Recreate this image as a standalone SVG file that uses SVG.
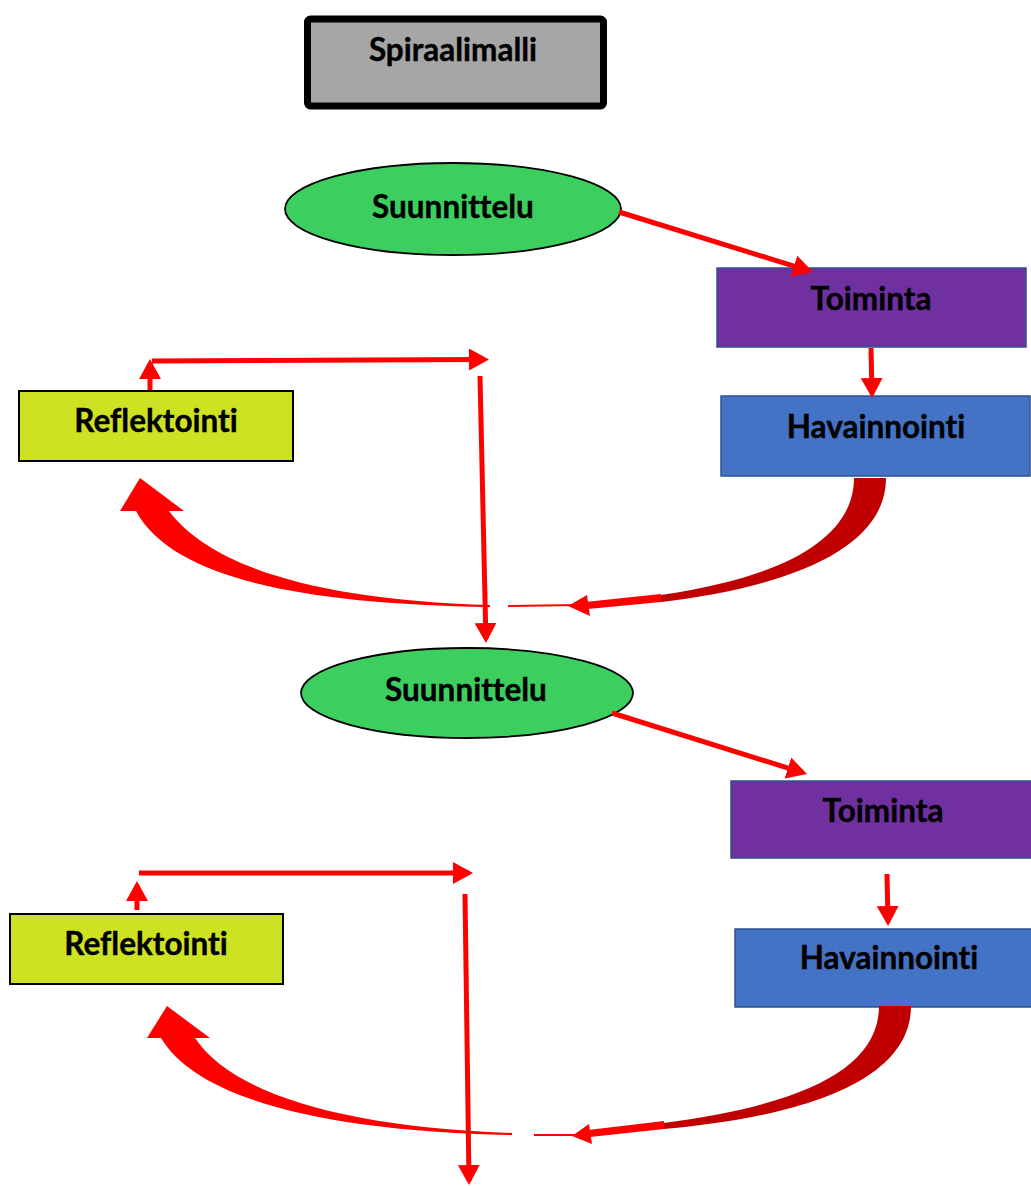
<svg xmlns="http://www.w3.org/2000/svg" width="1031" height="1186" viewBox="0 0 1031 1186">
<style>
.lbl{font-family:Lato,"Liberation Sans",sans-serif;font-weight:bold;font-size:31.5px;fill:#000;text-anchor:middle;font-variant-ligatures:none;stroke:#000;stroke-width:0.4}
.ell{fill:#3ccf5f;stroke:#000;stroke-width:1.8}
.tom{fill:#7030a0;stroke:#2f528f;stroke-width:1.5}
.hav{fill:#4472c4;stroke:#2f528f;stroke-width:1.5}
.ref{fill:#cde222;stroke:#000;stroke-width:2}
.ln{stroke:#ff0000;stroke-width:5;fill:none;marker-end:url(#ah)}
.red{fill:#ff0000}
.dred{fill:#c00000}
</style>
<defs>
<marker id="ah" markerUnits="userSpaceOnUse" markerWidth="22" markerHeight="22" refX="16" refY="11" orient="auto">
<path d="M0,0 L20,11 L0,22 Z" fill="#ff0000"/>
</marker>
</defs>
<rect width="1031" height="1186" fill="#ffffff"/>

<g id="title">
<rect x="307.5" y="19" width="296" height="87" rx="3" fill="#a6a6a6" stroke="#000" stroke-width="7"/>
<text class="lbl" x="453" y="61">Spiraalimalli</text>
</g>

<g id="suunnittelu1">
<ellipse class="ell" cx="453" cy="209" rx="168" ry="46"/>
<text class="lbl" x="453" y="218">Suunnittelu</text>
</g>
<g id="toiminta1">
<rect class="tom" x="717" y="268" width="309" height="79"/>
<text class="lbl" x="871" y="310">Toiminta</text>
</g>
<g id="havainnointi1">
<rect class="hav" x="721" y="396" width="309" height="80"/>
<text class="lbl" x="876" y="438">Havainnointi</text>
</g>
<g id="reflektointi1">
<rect class="ref" x="19" y="391" width="274" height="70"/>
<text class="lbl" x="156" y="432">Reflektointi</text>
</g>

<g id="suunnittelu2">
<ellipse class="ell" cx="467" cy="693" rx="166" ry="45"/>
<text class="lbl" x="466" y="701">Suunnittelu</text>
</g>
<g id="toiminta2">
<rect class="tom" x="731" y="781" width="310" height="77"/>
<text class="lbl" x="883" y="822">Toiminta</text>
</g>
<g id="havainnointi2">
<rect class="hav" x="735" y="929" width="310" height="78"/>
<text class="lbl" x="889" y="969">Havainnointi</text>
</g>
<g id="reflektointi2">
<rect class="ref" x="10" y="914" width="273" height="70"/>
<text class="lbl" x="146" y="955">Reflektointi</text>
</g>

<g id="connectors">
<line class="ln" x1="619" y1="212" x2="809.2" y2="270.8"/>
<line class="ln" x1="871" y1="348" x2="872" y2="394"/>
<line class="ln" x1="150" y1="390" x2="150" y2="363"/>
<line class="ln" x1="152" y1="361" x2="485" y2="359.5"/>
<line class="ln" x1="480" y1="376" x2="485.9" y2="639"/>

<line class="ln" x1="612" y1="713" x2="803.2" y2="772.8"/>
<line class="ln" x1="887" y1="874" x2="888" y2="922"/>
<line class="ln" x1="137" y1="910" x2="137" y2="885"/>
<line class="ln" x1="139" y1="873" x2="469" y2="873"/>
<line class="ln" x1="465" y1="894" x2="469" y2="1181"/>

<!-- curved arrow 1 -->
<path class="dred" d="M854 478 L886 478 C886 545 800 585 661 602 L661 595 C780 578 854 540 854 478 Z"/>
<path class="red" d="M585 602 L661 594 L661 602 L588 609 Z"/>
<path class="red" d="M568 606 L587 595 L590 616 Z"/>
<line x1="508" y1="606" x2="580" y2="605" stroke="#ff0000" stroke-width="2"/>
<path class="red" d="M136 511 C172 578 300 604 490 607 L490 605 C320 600 212 568 169 511 Z"/>
<path class="red" d="M120 511 L140 478 L184 511 Z"/>

<!-- curved arrow 2 -->
<path class="dred" d="M879 1006 L911 1006 C911 1075 820 1115 664 1129 L664 1123 C800 1105 879 1070 879 1006 Z"/>
<path class="red" d="M588 1130 L664 1121 L664 1129 L590 1137 Z"/>
<path class="red" d="M572 1136 L589 1124 L592 1144 Z"/>
<line x1="534" y1="1135" x2="580" y2="1135" stroke="#ff0000" stroke-width="2"/>
<path class="red" d="M161 1038 C197 1098 320 1131 512 1135 L512 1133 C340 1127 232 1093 195 1038 Z"/>
<path class="red" d="M147 1038 L167 1006 L210 1038 Z"/>
</g>
</svg>
